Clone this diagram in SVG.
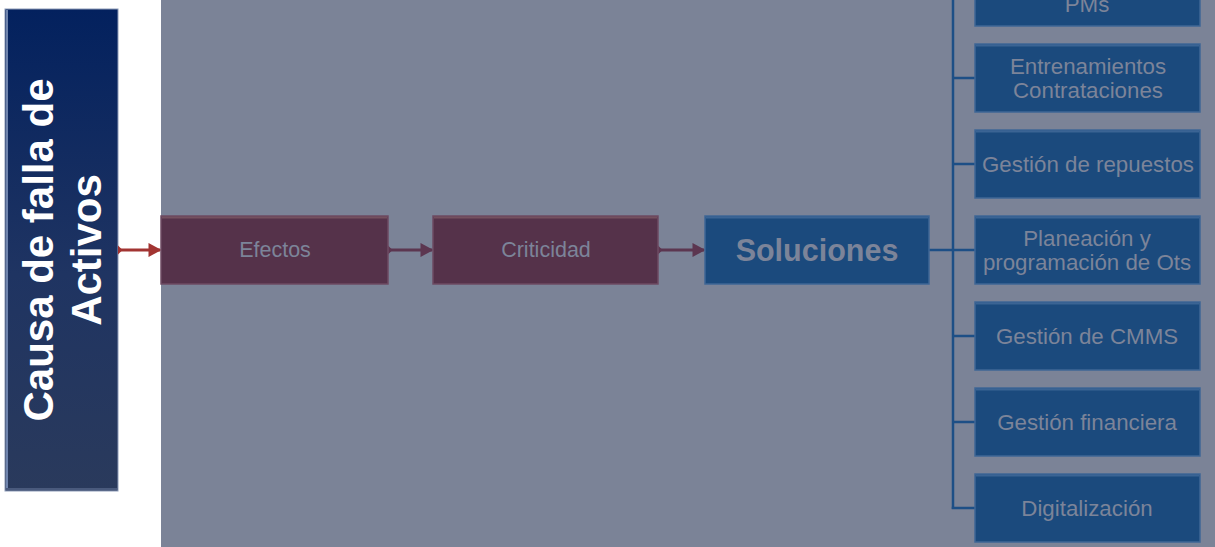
<svg xmlns="http://www.w3.org/2000/svg" width="1215" height="547" viewBox="0 0 1215 547">
  <defs>
    <linearGradient id="causeFill" x1="0" y1="0" x2="0" y2="1">
      <stop offset="0" stop-color="#03215e"/>
      <stop offset="0.55" stop-color="#1f3462"/>
      <stop offset="1" stop-color="#2a3a5c"/>
    </linearGradient>
    <marker id="arrowRed" viewBox="0 0 10 10" refX="9" refY="5" markerWidth="4" markerHeight="4.4" orient="auto" markerUnits="strokeWidth" preserveAspectRatio="none">
      <path d="M0,0 L10,5 L0,10 z" fill="#a23432"/>
    </marker>
    <marker id="arrowMaroon" viewBox="0 0 10 10" refX="9" refY="5" markerWidth="4" markerHeight="4.4" orient="auto" markerUnits="strokeWidth" preserveAspectRatio="none">
      <path d="M0,0 L10,5 L0,10 z" fill="#5c3650"/>
    </marker>
  </defs>
  <style>
    .label { font-family: "Liberation Sans", Arial, sans-serif; fill: #7c8499; text-anchor: middle; }
    .child { font-size: 22.3px; }
    .maroon { fill: #55324a; stroke: #6e4b63; stroke-width: 1.5; }
    .blue { fill: #1b4a7d; stroke: #3f6796; stroke-width: 1.5; }
    .hiM { stroke: #74505f; stroke-width: 2; }
    .hiB { stroke: #3b6494; stroke-width: 2; }
    .tree { stroke: #1d4f86; stroke-width: 2.5; fill: none; }
  </style>

  <rect width="1215" height="547" fill="#ffffff"/>
  <!-- shaded panel -->
  <rect x="161" y="0" width="1054" height="547" fill="#7b8397"/>

  <!-- cause column -->
  <g id="cause">
    <rect x="5" y="9" width="113" height="482" fill="url(#causeFill)" stroke="#8d9bb8" stroke-width="1"/>
    <line x1="7" y1="10" x2="7" y2="490" stroke="#6f84ad" stroke-width="2"/>
    <line x1="6" y1="489" x2="117" y2="489" stroke="#4a5a7d" stroke-width="2"/>
    <g transform="translate(53,250) rotate(-90)" font-family="Liberation Sans, Arial, sans-serif" font-weight="bold" font-size="42" fill="#ffffff" text-anchor="middle">
      <text x="0" y="0">Causa de falla de</text>
      <text x="0" y="48">Activos</text>
    </g>
  </g>

  <!-- connectors -->
  <g id="connectors">
    <line x1="118" y1="250" x2="160" y2="250" stroke="#a23432" stroke-width="3.2" marker-end="url(#arrowRed)"/>
    <path d="M118,245.5 L122.5,250 L118,254.5 z" fill="#a23432"/>
    <line x1="388" y1="250" x2="432" y2="250" stroke="#5c3650" stroke-width="3.2" marker-end="url(#arrowMaroon)"/>
    <path d="M388,245.5 L392.5,250 L388,254.5 z" fill="#5c3650"/>
    <line x1="658" y1="250" x2="704" y2="250" stroke="#5c3650" stroke-width="3.2" marker-end="url(#arrowMaroon)"/>
    <path d="M658,245.5 L662.5,250 L658,254.5 z" fill="#5c3650"/>
    <line class="tree" x1="929" y1="250" x2="975" y2="250"/>
    <line class="tree" x1="953" y1="0" x2="953" y2="509"/>
    <line class="tree" x1="953" y1="78" x2="975" y2="78"/>
    <line class="tree" x1="953" y1="164" x2="975" y2="164"/>
    <line class="tree" x1="953" y1="336" x2="975" y2="336"/>
    <line class="tree" x1="953" y1="422" x2="975" y2="422"/>
    <line class="tree" x1="951.75" y1="508" x2="975" y2="508"/>
  </g>

  <g id="efectos">
    <rect class="maroon" x="161" y="216" width="227" height="68"/>
    <line class="hiM" x1="162" y1="217.5" x2="387" y2="217.5"/>
    <text class="label" x="275" y="257" font-size="21.5">Efectos</text>
  </g>

  <g id="criticidad">
    <rect class="maroon" x="433" y="216" width="225" height="68"/>
    <line class="hiM" x1="434" y1="217.5" x2="657" y2="217.5"/>
    <text class="label" x="546" y="257" font-size="21.5">Criticidad</text>
  </g>

  <g id="soluciones">
    <rect class="blue" x="705" y="216" width="224" height="68"/>
    <line class="hiB" x1="706" y1="217.5" x2="928" y2="217.5"/>
    <text class="label" x="817" y="261" font-size="30.5" font-weight="bold">Soluciones</text>
  </g>

  <g id="pms">
    <rect class="blue" x="975" y="-42" width="225" height="68"/>
    <text class="label child" x="1087" y="12">PMs</text>
  </g>

  <g id="entrenamientos">
    <rect class="blue" x="975" y="44" width="225" height="68"/>
    <line class="hiB" x1="976" y1="45.5" x2="1199" y2="45.5"/>
    <text class="label child" x="1088" y="74">Entrenamientos</text>
    <text class="label child" x="1088" y="98">Contrataciones</text>
  </g>

  <g id="repuestos">
    <rect class="blue" x="975" y="130" width="225" height="68"/>
    <line class="hiB" x1="976" y1="131.5" x2="1199" y2="131.5"/>
    <text class="label child" x="1088" y="172">Gestión de repuestos</text>
  </g>

  <g id="planeacion">
    <rect class="blue" x="975" y="216" width="225" height="68"/>
    <line class="hiB" x1="976" y1="217.5" x2="1199" y2="217.5"/>
    <text class="label child" x="1087" y="246">Planeación y</text>
    <text class="label child" x="1087" y="270">programación de Ots</text>
  </g>

  <g id="cmms">
    <rect class="blue" x="975" y="302" width="225" height="68"/>
    <line class="hiB" x1="976" y1="303.5" x2="1199" y2="303.5"/>
    <text class="label child" x="1087" y="344">Gestión de CMMS</text>
  </g>

  <g id="financiera">
    <rect class="blue" x="975" y="388" width="225" height="68"/>
    <line class="hiB" x1="976" y1="389.5" x2="1199" y2="389.5"/>
    <text class="label child" x="1087" y="430">Gestión financiera</text>
  </g>

  <g id="digitalizacion">
    <rect class="blue" x="975" y="474" width="225" height="68"/>
    <line class="hiB" x1="976" y1="475.5" x2="1199" y2="475.5"/>
    <text class="label child" x="1087" y="516">Digitalización</text>
  </g>
</svg>
